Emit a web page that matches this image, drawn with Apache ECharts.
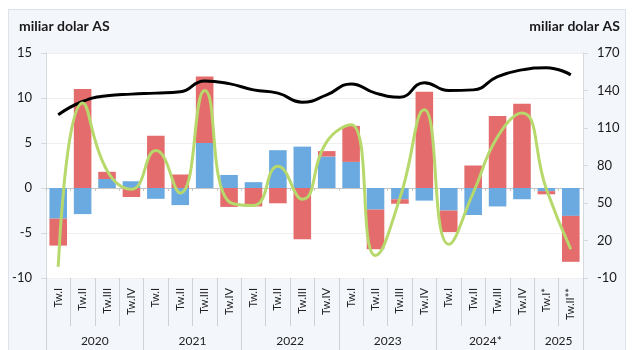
<!DOCTYPE html>
<html>
<head>
<meta charset="utf-8">
<script src="https://cdn.jsdelivr.net/npm/echarts@6/dist/echarts.min.js"></script>
<style>
html,body{margin:0;padding:0;background:#fff;width:640px;height:350px;overflow:hidden;}
#frame{position:absolute;left:8px;top:9px;width:618px;height:350px;background:#f3f6fb;border:1px solid #dde3ea;box-sizing:border-box;}
#chart{position:absolute;left:0;top:0;width:640px;height:350px;}
</style>
</head>
<body>
<div id="frame"></div>
<div id="chart"></div>
<script>
var categories = ['Tw.I','Tw.II','Tw.III','Tw.IV','Tw.I','Tw.II','Tw.III','Tw.IV','Tw.I','Tw.II','Tw.III','Tw.IV','Tw.I','Tw.II','Tw.III','Tw.IV','Tw.I','Tw.II','Tw.III','Tw.IV','Tw.I*','Tw.II**'];
var years = ['2020','2021','2022','2023','2024*','2025'];
var yearSpans = [4,4,4,4,4,2];
var blueSeries = [-3.4,-2.9,1.0,0.75,-1.2,-1.9,5.0,1.45,0.65,4.2,4.6,3.5,2.9,-2.4,-1.25,-1.4,-2.5,-3.0,-2.05,-1.25,-0.35,-3.1];
var redSeries = [-3.0,11.0,0.8,-1.0,5.8,1.5,7.4,-2.1,-2.05,-1.7,-5.7,0.6,4.0,-4.4,-0.5,10.7,-2.4,2.5,8.0,9.35,-0.35,-5.1];
var blackLine = [120.6,131.2,135.8,137.1,137.9,139.0,147.7,145.5,140.5,137.9,130.7,136.5,145.3,137.9,134.7,146.2,140.0,140.5,151.1,156.5,158.3,152.5];
var greenLine = [-1,130,76,61,92,58,140,51,48,79.5,53,99,112.7,8,54,124.6,17,58,103,122,61,13];
var leftTicks = {min:-10,max:15,interval:5};
var rightTicks = {min:-10,max:170,interval:30};

// half-step category axis for year labels
var halfData = [];
var yearTickIdx = {0:true};
var pos = 0;
for (var i = 0; i <= categories.length * 2; i++) halfData.push('');
for (var k = 0; k < years.length; k++) {
  halfData[pos * 2 + yearSpans[k]] = years[k];
  pos += yearSpans[k];
  yearTickIdx[pos * 2] = true;
}

var FONT = 'Lato, "Open Sans", sans-serif';
var chart = echarts.init(document.getElementById('chart'), null, {renderer:'canvas'});
chart.setOption({
  backgroundColor: 'transparent',
  animation: false,
  textStyle: {fontFamily: FONT},
  title: [
    {text:'miliar dolar AS', left:19, top:19, padding:0, textStyle:{fontSize:14, fontWeight:'bold', color:'#1a1a1a', fontFamily:FONT}},
    {text:'miliar dolar AS', right:20, top:19, padding:0, textStyle:{fontSize:14, fontWeight:'bold', color:'#1a1a1a', fontFamily:FONT}}
  ],
  grid: {left:46, right:57, top:53, bottom:72, show:true, backgroundColor:'#ffffff', borderWidth:0},
  xAxis: [
    {type:'category', data:categories, position:'bottom',
     axisLine:{show:true, onZero:true, lineStyle:{color:'#c4c4c4', width:1}},
     axisTick:{show:true, length:3, interval:0, lineStyle:{color:'#c4c4c4'}},
     axisLabel:{show:false}, splitLine:{show:false}},
    {type:'category', data:categories, position:'bottom',
     axisLine:{show:false, onZero:false},
     axisTick:{show:true, length:48, interval:0, lineStyle:{color:'#cdd2d8'}},
     axisLabel:{show:true, interval:0, rotate:90, margin:10, fontSize:11, color:'#222', fontFamily:FONT},
     splitLine:{show:false}},
    {type:'category', data:halfData, boundaryGap:false, position:'bottom',
     axisLine:{show:false, onZero:false},
     axisTick:{show:true, length:72, interval:function(idx){return !!yearTickIdx[idx];}, lineStyle:{color:'#cdd2d8'}},
     axisLabel:{show:true, interval:0, margin:57, fontSize:12, color:'#222', fontFamily:FONT},
     splitLine:{show:false}}
  ],
  yAxis: [
    {type:'value', min:leftTicks.min, max:leftTicks.max, interval:leftTicks.interval, position:'left',
     axisLine:{show:true, lineStyle:{color:'#d6d9dd'}},
     axisTick:{show:true, length:5, lineStyle:{color:'#d6d9dd'}},
     axisLabel:{fontSize:13, color:'#1a1a1a', margin:14, fontFamily:FONT},
     splitLine:{show:true, lineStyle:{color:'#efefef'}}},
    {type:'value', min:rightTicks.min, max:rightTicks.max, interval:rightTicks.interval, position:'right',
     axisLine:{show:true, lineStyle:{color:'#d6d9dd'}},
     axisTick:{show:true, length:5, lineStyle:{color:'#d6d9dd'}},
     axisLabel:{fontSize:13, color:'#1a1a1a', margin:14, fontFamily:FONT},
     splitLine:{show:false}}
  ],
  series: [
    {type:'bar', name:'biru', xAxisIndex:0, yAxisIndex:0, stack:'s', data:blueSeries, barWidth:'72%',
     itemStyle:{color:'#6aaae0'}},
    {type:'bar', name:'merah', xAxisIndex:0, yAxisIndex:0, stack:'s', data:redSeries, barWidth:'72%',
     itemStyle:{color:'#e46c6c'}},
    {type:'line', name:'hitam', xAxisIndex:0, yAxisIndex:1, data:blackLine, smooth:0.5, symbol:'none',
     lineStyle:{color:'#000000', width:3}},
    {type:'line', name:'hijau', xAxisIndex:0, yAxisIndex:1, data:greenLine, smooth:0.5, symbol:'none',
     lineStyle:{color:'#b7d86b', width:3}}
  ]
});
</script>
</body>
</html>
